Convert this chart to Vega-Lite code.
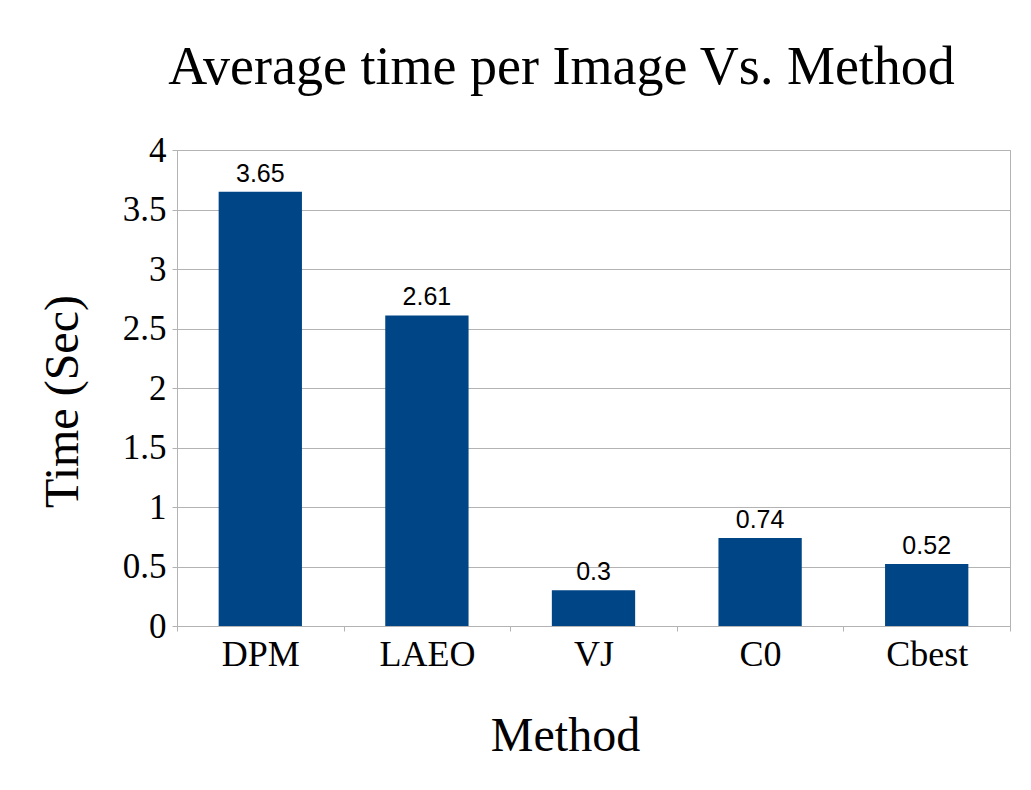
{
  "$schema": "https://vega.github.io/schema/vega-lite/v6.json",
  "autosize": {"type": "none"},
  "padding": {"left": 177, "top": 150, "right": 21, "bottom": 164},
  "width": 833,
  "height": 476,
  "background": "white",
  "title": {
    "text": "Average time per Image Vs. Method",
    "font": "Liberation Serif",
    "fontSize": 54,
    "fontWeight": "normal",
    "color": "black",
    "anchor": "middle",
    "baseline": "alphabetic",
    "offset": -5,
    "dx": -32
  },
  "data": {
    "values": [
      {"Method": "DPM", "Time": 3.65},
      {"Method": "LAEO", "Time": 2.61},
      {"Method": "VJ", "Time": 0.3},
      {"Method": "C0", "Time": 0.74},
      {"Method": "Cbest", "Time": 0.52}
    ]
  },
  "encoding": {
    "x": {
      "field": "Method",
      "type": "nominal",
      "sort": null,
      "scale": {"paddingInner": 0, "paddingOuter": 0},
      "axis": {
        "title": "Method",
        "labelAngle": 0,
        "labelFont": "Liberation Serif",
        "labelFontSize": 36,
        "labelColor": "black",
        "labelPadding": 6,
        "tickBand": "extent",
        "tickSize": 5,
        "tickColor": "#b3b3b3",
        "domainColor": "#b3b3b3",
        "grid": false,
        "titleFont": "Liberation Serif",
        "titleFontSize": 48,
        "titleFontWeight": "normal",
        "titleColor": "black",
        "titleX": 388,
        "titleY": 124,
        "titleAlign": "center",
        "titleBaseline": "alphabetic"
      }
    },
    "y": {
      "field": "Time",
      "type": "quantitative",
      "scale": {"domain": [0, 4], "nice": false},
      "axis": {
        "title": "Time (Sec)",
        "values": [0, 0.5, 1, 1.5, 2, 2.5, 3, 3.5, 4],
        "format": "~g",
        "labelFont": "Liberation Serif",
        "labelFontSize": 35,
        "labelColor": "black",
        "labelPadding": 6,
        "tickSize": 5,
        "tickColor": "#b3b3b3",
        "domainColor": "#b3b3b3",
        "gridColor": "#b3b3b3",
        "titleFont": "Liberation Serif",
        "titleFontSize": 48,
        "titleFontWeight": "normal",
        "titleColor": "black",
        "titleAngle": -90,
        "titleX": -114,
        "titleY": 251,
        "titleAlign": "center",
        "titleBaseline": "middle"
      }
    }
  },
  "layer": [
    {"mark": {"type": "bar", "color": "#004586", "width": {"band": 0.5}}},
    {
      "mark": {
        "type": "text",
        "font": "Liberation Sans",
        "fontSize": 25,
        "color": "black",
        "baseline": "alphabetic",
        "dy": -10
      },
      "encoding": {"text": {"field": "Time", "type": "quantitative"}}
    }
  ],
  "config": {
    "view": {"stroke": "#b3b3b3"}
  }
}
